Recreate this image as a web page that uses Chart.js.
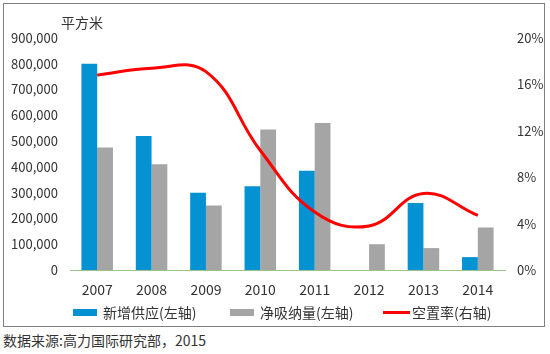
<!DOCTYPE html>
<html>
<head>
<meta charset="utf-8">
<script src="https://cdn.jsdelivr.net/npm/chart.js@4.4.1/dist/chart.umd.min.js"></script>
<style>
    body { margin: 0; background: #fff; font-family: "Noto Sans CJK SC", sans-serif; color: #333; }
    #frame { position: absolute; left: 3px; top: 3px; width: 540px; height: 322px; border: 1px solid #808080; }
    #chart { position: absolute; left: 0; top: 0; }
    #unit { position: absolute; left: 57px; top: 9px; font-size: 14px; line-height: 18px; }
    #legend { position: absolute; left: 69px; top: 299px; font-size: 14px; line-height: 18px; display: flex; }
    #legend .item { display: flex; align-items: center; }
    #legend .swatch { display: inline-block; width: 24px; margin-right: 6px; }
    #source { position: absolute; left: 3px; top: 331px; font-size: 14px; line-height: 18px; }
</style>
</head>
<body>
<div id="frame">
    <canvas id="chart" width="540" height="322"></canvas>
    <div id="unit">平方米</div>
    <div id="legend"></div>
</div>
<div id="source">数据来源:高力国际研究部，2015</div>
<script>
const years = ['2007', '2008', '2009', '2010', '2011', '2012', '2013', '2014'];
const newSupply = [800000, 520000, 300000, 325000, 385000, 0, 260000, 50000];
const netAbsorption = [475000, 410000, 250000, 545000, 570000, 100000, 85000, 165000];
const vacancyRate = [16.8, 17.4, 17.1, 10.3, 5.0, 3.8, 6.6, 4.7];

const leftMax = 900000;
const leftStep = 100000;
const rightMax = 20;
const rightStep = 4;

const tickFont = { family: '"Noto Sans CJK SC", sans-serif', size: 13 };

const chart = new Chart(document.getElementById('chart'), {
    type: 'bar',
    data: {
        labels: years,
        datasets: [
            { label: '新增供应(左轴)', data: newSupply, backgroundColor: '#0492D2', yAxisID: 'y', order: 1 },
            { label: '净吸纳量(左轴)', data: netAbsorption, backgroundColor: '#A5A5A5', yAxisID: 'y', order: 1 },
            {
                type: 'line', label: '空置率(右轴)', data: vacancyRate, yAxisID: 'y1', order: 0,
                borderColor: '#FF0000', backgroundColor: '#FF0000', borderWidth: 3,
                pointRadius: 0, tension: 0.42, fill: false
            }
        ]
    },
    options: {
        responsive: false,
        animation: false,
        layout: { padding: { top: 34, bottom: 26, left: 0, right: 0 } },
        datasets: { bar: { categoryPercentage: 0.58, barPercentage: 1 } },
        plugins: { legend: { display: false }, tooltip: { enabled: false } },
        scales: {
            x: {
                grid: { display: false, drawTicks: false },
                border: { display: true, color: '#9DC38C', width: 1 },
                ticks: { color: '#333', font: { family: tickFont.family, size: 14 }, padding: 11 },
                afterFit: s => { s.height = 30; }
            },
            y: {
                position: 'left', min: 0, max: leftMax,
                grid: { display: false, drawTicks: false },
                border: { display: false },
                ticks: { stepSize: leftStep, color: '#333', font: tickFont, padding: 12,
                    callback: v => v.toLocaleString('en-US') },
                afterFit: s => { s.width = 66; }
            },
            y1: {
                position: 'right', min: 0, max: rightMax,
                grid: { display: false, drawTicks: false },
                border: { display: false },
                ticks: { stepSize: rightStep, color: '#333', font: tickFont, padding: 12,
                    callback: v => v + '%' },
                afterFit: s => { s.width = 39; }
            }
        }
    }
});

// légende HTML, construite à partir des datasets
const legend = document.getElementById('legend');
const widths = [157, 153, 0];
chart.data.datasets.forEach((ds, i) => {
    const item = document.createElement('div');
    item.className = 'item';
    if (widths[i]) item.style.width = widths[i] + 'px';
    const sw = document.createElement('span');
    sw.className = 'swatch';
    sw.style.background = ds.type === 'line' ? ds.borderColor : ds.backgroundColor;
    sw.style.height = ds.type === 'line' ? '3px' : '7px';
    if (ds.type === 'line') sw.style.width = '27px', sw.style.marginRight = '2px';
    item.appendChild(sw);
    item.appendChild(document.createTextNode(ds.label));
    legend.appendChild(item);
});
</script>
</body>
</html>
